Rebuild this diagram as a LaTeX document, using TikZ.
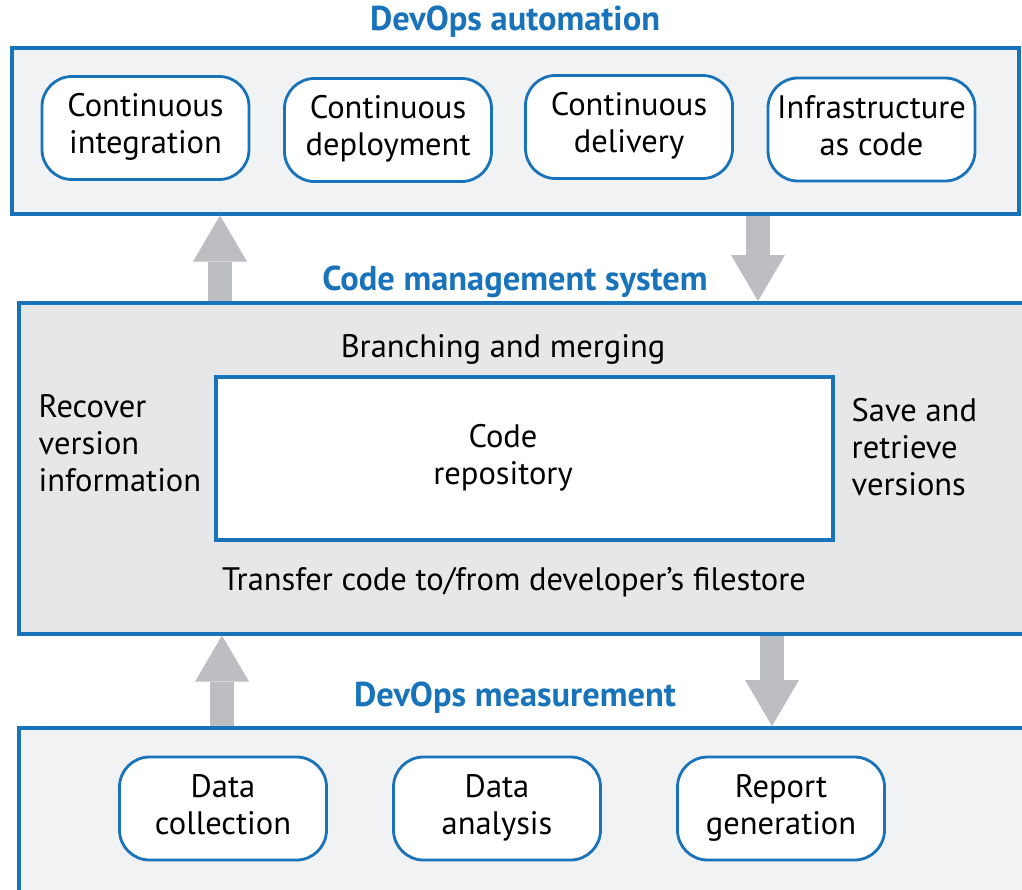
\documentclass[tikz,border=0pt]{standalone}
\usepackage{fontspec}
\setmainfont{PT Sans}
\usetikzlibrary{arrows.meta,positioning}
\definecolor{devblue}{RGB}{24,115,187}
\definecolor{panelgray}{RGB}{241,242,244}
\definecolor{midgray}{RGB}{230,231,233}
\definecolor{arrowgray}{RGB}{188,190,193}
\tikzset{
    font=\fontsize{9.25}{10.5}\selectfont,
    panel/.style = {draw=devblue, line width=1pt, fill=panelgray, anchor=north west, inner sep=0},
    task/.style = {draw=devblue, line width=0.8pt, fill=white, rounded corners=0.3cm, minimum width=2.07cm, minimum height=1.03cm, inner sep=0},
    title/.style = {text=devblue, inner sep=0, font=\fontsize{9.8}{11}\selectfont\bfseries},
    txt/.style = {inner sep=0},
    flow/.style = {arrowgray, line width=0.24cm, -{Triangle[width=0.54cm,length=0.46cm,line width=0pt]}}
}

\begin{document}
\begin{tikzpicture}
    \useasboundingbox (0,0) rectangle (10.22,-8.89);
    \clip (0,0) rectangle (10.22,-8.89);

    % the three panels
    \node[panel, minimum width=10.07cm, minimum height=1.66cm] (auto) at (0.10,-0.46) {};
    \node[panel, fill=midgray, minimum width=10.5cm, minimum height=3.31cm] (cms) at (0.17,-3.01) {};
    \node[panel, minimum width=10.5cm, minimum height=2.2cm] (meas) at (0.17,-7.26) {};

    \node[title] (tauto) at (5.15,-0.22) {DevOps automation};
    \node[title] (tcms) at (5.15,-2.82) {Code management system};
    \node[title] (tmeas) at (5.15,-6.98) {DevOps measurement};

    % automation
    \node[task] (ci) at (1.455,-1.28) {\begin{tabular}{@{}c@{}}Continuous\\integration\end{tabular}};
    \node[task] (cdep) at (3.88,-1.30) {\begin{tabular}{@{}c@{}}Continuous\\deployment\end{tabular}};
    \node[task] (cdel) at (6.29,-1.27) {\begin{tabular}{@{}c@{}}Continuous\\delivery\end{tabular}};
    \node[task] (iac) at (8.715,-1.295) {\begin{tabular}{@{}c@{}}Infrastructure\\as code\end{tabular}};

    % code management
    \node[draw=devblue, line width=1pt, fill=white, minimum width=6.17cm, minimum height=1.63cm] (repo) at (5.245,-4.585) {};
    \node[txt] (repotext) at (5.03,-4.59) {\begin{tabular}{@{}c@{}}Code\\repository\end{tabular}};
    \node[txt] (branch) at (5.03,-3.49) {Branching and merging};
    \node[txt] (transfer) at (5.14,-5.82) {Transfer code to/from developer’s filestore};
    \node[txt, anchor=west] (recover) at (0.38,-4.47) {\begin{tabular}{@{}l@{}}Recover\\version\\information\end{tabular}};
    \node[txt, anchor=west] (save) at (8.51,-4.51) {\begin{tabular}{@{}l@{}}Save and\\retrieve\\versions\end{tabular}};

    % measurement
    \node[task] (dc) at (2.23,-8.085) {\begin{tabular}{@{}c@{}}Data\\collection\end{tabular}};
    \node[task] (da) at (4.97,-8.085) {\begin{tabular}{@{}c@{}}Data\\analysis\end{tabular}};
    \node[task] (rg) at (7.81,-8.085) {\begin{tabular}{@{}c@{}}Report\\generation\end{tabular}};

    % flows between panels
    \coordinate (up1) at (2.20,0);
    \coordinate (down1) at (7.58,0);
    \coordinate (up2) at (2.22,0);
    \coordinate (down2) at (7.72,0);
    \draw[flow] (up1 |- cms.north) -- (up1 |- auto.south);
    \draw[flow] (down1 |- auto.south) -- (down1 |- cms.north);
    \draw[flow] (up2 |- meas.north) -- (up2 |- cms.south);
    \draw[flow] (down2 |- cms.south) -- (down2 |- meas.north);
\end{tikzpicture}
\end{document}
